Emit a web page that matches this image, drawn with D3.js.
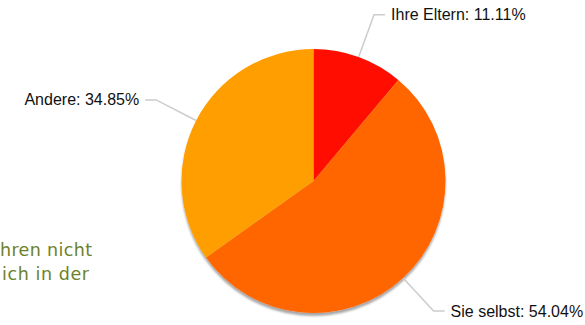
<!DOCTYPE html>
<html><head><meta charset="utf-8">
<script src="https://cdn.jsdelivr.net/npm/d3@7"></script>
<style>html,body{margin:0;padding:0;background:#fff;overflow:hidden}</style>
</head><body>
<svg id="c" width="585" height="325"></svg>
<script>
const categories = ["Ihre Eltern", "Sie selbst", "Andere"];
const values = [11.11, 54.04, 34.85];
const colors = ["#ff0f00", "#ff6600", "#ff9e01"];
const bgLines = ["hren nicht", "ich in der"];

const svg = d3.select("#c");
const W = 585, H = 325;
const cx = 313.5, cy = 181, R = 132, Rl = 177;

// background page text (cut off at the left edge)
const bgX = [0, 2], bgLen = [92, 87];
svg.append("g").selectAll("text").data(bgLines).join("text")
  .attr("x", (d, i) => bgX[i]).attr("y", (d, i) => 256 + i * 24)
  .attr("textLength", (d, i) => bgLen[i]).attr("lengthAdjust", "spacing")
  .attr("font-family", "'DejaVu Sans', sans-serif")
  .attr("font-size", 17.5)
  .attr("fill", "#6d8128")
  .text(d => d);

const pie = d3.pie().sort(null).value(d => d)(values);
const arc = d3.arc().innerRadius(0).outerRadius(R);

const defs = svg.append("defs");
const f = defs.append("filter").attr("id", "sh").attr("x", "-10%").attr("y", "-10%").attr("width", "120%").attr("height", "130%");
f.append("feGaussianBlur").attr("in", "SourceAlpha").attr("stdDeviation", 1);
f.append("feOffset").attr("dx", 0).attr("dy", 2.5).attr("result", "o");
f.append("feComponentTransfer").append("feFuncA").attr("type", "linear").attr("slope", 0.35);
const m = f.append("feMerge");
m.append("feMergeNode");
m.append("feMergeNode").attr("in", "SourceGraphic");

const g = svg.append("g").attr("transform", `translate(${cx},${cy})`);
g.append("g").attr("filter", "url(#sh)").selectAll("path").data(pie).join("path")
  .attr("d", arc).attr("fill", (d, i) => colors[i]);

// labels
const lab = svg.append("g").attr("transform", `translate(${cx},${cy})`);
pie.forEach((d, i) => {
  const a = (d.startAngle + d.endAngle) / 2;
  const x1 = Math.sin(a) * R, y1 = -Math.cos(a) * R;
  const x2 = Math.sin(a) * Rl, y2 = -Math.cos(a) * Rl;
  const right = Math.sin(a) >= 0;
  const x3 = x2 + (right ? 11 : -11);
  lab.append("polyline")
    .attr("points", [[x1, y1], [x2, y2], [x3, y2]].map(p => p.join(",")).join(" "))
    .attr("fill", "none").attr("stroke", "#cccccc").attr("stroke-width", 1.5);
  lab.append("text")
    .attr("x", x3 + (right ? 6 : -6)).attr("y", y2 + 5.5)
    .attr("text-anchor", right ? "start" : "end")
    .attr("font-family", "'Liberation Sans', Arial, sans-serif")
    .attr("font-size", 16).attr("fill", "#111")
    .text(`${categories[i]}: ${values[i].toFixed(2)}%`);
});
</script>
</body></html>
